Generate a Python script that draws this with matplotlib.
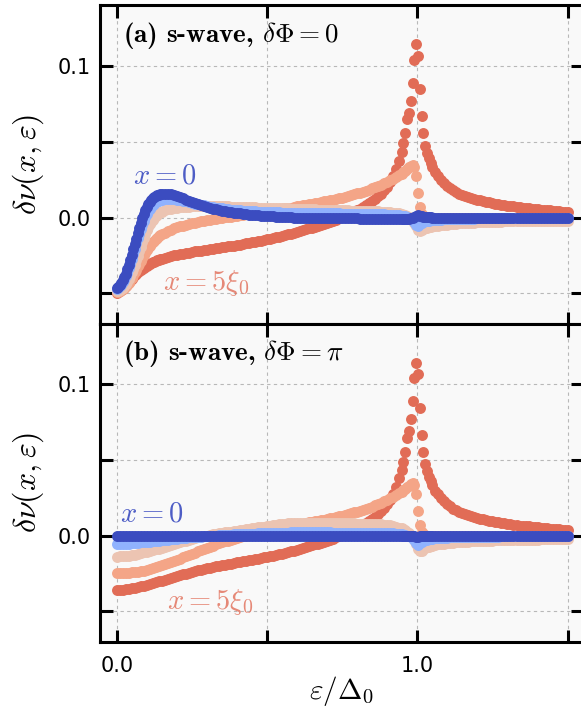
import os
import numpy as np
import matplotlib
matplotlib.use("Agg")
import matplotlib.pyplot as plt
from matplotlib.font_manager import FontProperties

plt.rcParams['mathtext.fontset'] = 'cm'

# energy grids eps/Delta_0: finer where the curves are steep (low energy in
# panel (a), and around the gap edge eps = Delta_0)
EPS_A = np.concatenate([np.arange(0, 30) / 200,
                        np.arange(15, 95) / 100,
                        np.arange(948, 1051, 6) / 1000,
                        np.arange(106, 151) / 100])
EPS_B = np.concatenate([np.arange(0, 95) / 100,
                        np.arange(948, 1051, 6) / 1000,
                        np.arange(106, 151) / 100])

# ---------------- panel (a): delta Phi = 0 ----------------
A_X0 = [
    -0.0463, -0.0456, -0.0445, -0.0431, -0.0415, -0.0394, -0.0370, -0.0341, -0.0310, -0.0278,
    -0.0245, -0.0210, -0.0175, -0.0140, -0.0105, -0.0070, -0.0035, -0.0004, 0.0025, 0.0050,
    0.0072, 0.0090, 0.0105, 0.0118, 0.0128, 0.0136, 0.0143, 0.0148, 0.0152, 0.0155,
    0.0157, 0.0158, 0.0157, 0.0153, 0.0148,
    0.0142, 0.0135, 0.0127, 0.0119, 0.0111, 0.0103, 0.0095, 0.0088, 0.0081, 0.0075,
    0.0069, 0.0064, 0.0059, 0.0054, 0.0050, 0.0046, 0.0042, 0.0039, 0.0035, 0.0032,
    0.0029, 0.0027, 0.0024, 0.0022, 0.0020, 0.0018, 0.0016, 0.0014, 0.0013, 0.0011,
    0.0010, 0.0008, 0.0007, 0.0006, 0.0005, 0.0004, 0.0003, 0.0002, 0.0001, 0.0000,
    -0.0001, -0.0001, -0.0002, -0.0002, -0.0002, -0.0003, -0.0003, -0.0003, -0.0004, -0.0004,
    -0.0004, -0.0004, -0.0005, -0.0005, -0.0005, -0.0005, -0.0006, -0.0006, -0.0006, -0.0006,
    -0.0006, -0.0007, -0.0007, -0.0007, -0.0007, -0.0007, -0.0007, -0.0007, -0.0007, -0.0007,
    -0.0007, -0.0008, -0.0008, -0.0009, -0.0009,
    -0.0009, -0.0010, -0.0010, -0.0010, -0.0009, -0.0006, -0.0002, 0.0004, 0.0012, 0.0016,
    0.0012, 0.0008, 0.0005, 0.0003, 0.0002, 0.0001, 0.0001, 0.0000,
    0.0, 0.0, 0.0, 0.0, 0.0, 0.0, 0.0, 0.0, 0.0, 0.0,
    0.0, 0.0, 0.0, 0.0, 0.0, 0.0, 0.0, 0.0, 0.0, 0.0,
    0.0, 0.0, 0.0, 0.0, 0.0, 0.0, 0.0, 0.0, 0.0, 0.0,
    0.0, 0.0, 0.0, 0.0, 0.0, 0.0, 0.0, 0.0, 0.0, 0.0,
    0.0, 0.0, 0.0, 0.0, 0.0,
]
A_X1 = [
    -0.0470, -0.0464, -0.0455, -0.0443, -0.0428, -0.0409, -0.0388, -0.0363, -0.0335, -0.0304,
    -0.0272, -0.0239, -0.0205, -0.0171, -0.0138, -0.0106, -0.0075, -0.0047, -0.0022, 0.0001,
    0.0022, 0.0040, 0.0056, 0.0070, 0.0082, 0.0092, 0.0100, 0.0107, 0.0112, 0.0116,
    0.0119, 0.0123, 0.0124, 0.0123, 0.0121,
    0.0118, 0.0114, 0.0110, 0.0106, 0.0101, 0.0097, 0.0092, 0.0088, 0.0084, 0.0080,
    0.0076, 0.0072, 0.0069, 0.0066, 0.0063, 0.0060, 0.0057, 0.0055, 0.0053, 0.0051,
    0.0049, 0.0047, 0.0045, 0.0044, 0.0042, 0.0041, 0.0040, 0.0039, 0.0038, 0.0037,
    0.0036, 0.0035, 0.0035, 0.0034, 0.0034, 0.0033, 0.0033, 0.0032, 0.0032, 0.0032,
    0.0031, 0.0031, 0.0031, 0.0030, 0.0030, 0.0030, 0.0029, 0.0029, 0.0029, 0.0028,
    0.0028, 0.0028, 0.0027, 0.0027, 0.0027, 0.0026, 0.0026, 0.0026, 0.0025, 0.0025,
    0.0025, 0.0024, 0.0024, 0.0024, 0.0023, 0.0023, 0.0022, 0.0022, 0.0021, 0.0021,
    0.0020, 0.0019, 0.0018, 0.0016, 0.0014,
    0.0012, 0.0010, 0.0007, 0.0004, 0.0000, -0.0006, -0.0015, -0.0030, -0.0048, -0.0055,
    -0.0045, -0.0036, -0.0030, -0.0026, -0.0023, -0.0020, -0.0018, -0.0017,
    -0.0015, -0.0014, -0.0013, -0.0012, -0.0011, -0.0010, -0.0010, -0.0009, -0.0009, -0.0008,
    -0.0008, -0.0007, -0.0007, -0.0007, -0.0006, -0.0006, -0.0006, -0.0005, -0.0005, -0.0005,
    -0.0005, -0.0004, -0.0004, -0.0004, -0.0004, -0.0004, -0.0004, -0.0004, -0.0004, -0.0004,
    -0.0004, -0.0004, -0.0004, -0.0003, -0.0003, -0.0003, -0.0003, -0.0003, -0.0003, -0.0003,
    -0.0003, -0.0003, -0.0003, -0.0003, -0.0003,
]
A_X2 = [
    -0.0485, -0.0482, -0.0478, -0.0471, -0.0462, -0.0451, -0.0438, -0.0423, -0.0405, -0.0385,
    -0.0362, -0.0337, -0.0310, -0.0281, -0.0252, -0.0222, -0.0192, -0.0163, -0.0135, -0.0109,
    -0.0085, -0.0064, -0.0045, -0.0028, -0.0013, 0.0000, 0.0010, 0.0019, 0.0027, 0.0034,
    0.0039, 0.0048, 0.0054, 0.0059, 0.0063,
    0.0066, 0.0068, 0.0070, 0.0071, 0.0072, 0.0073, 0.0074, 0.0074, 0.0075, 0.0075,
    0.0075, 0.0075, 0.0075, 0.0074, 0.0074, 0.0074, 0.0073, 0.0073, 0.0072, 0.0072,
    0.0071, 0.0070, 0.0070, 0.0069, 0.0068, 0.0068, 0.0067, 0.0066, 0.0066, 0.0065,
    0.0064, 0.0064, 0.0063, 0.0062, 0.0062, 0.0061, 0.0060, 0.0060, 0.0059, 0.0058,
    0.0058, 0.0057, 0.0056, 0.0056, 0.0055, 0.0054, 0.0054, 0.0053, 0.0052, 0.0052,
    0.0051, 0.0050, 0.0050, 0.0049, 0.0048, 0.0048, 0.0047, 0.0047, 0.0046, 0.0045,
    0.0045, 0.0044, 0.0044, 0.0043, 0.0042, 0.0042, 0.0041, 0.0040, 0.0039, 0.0038,
    0.0037, 0.0035, 0.0033, 0.0030, 0.0027,
    0.0024, 0.0020, 0.0015, 0.0010, 0.0003, -0.0006, -0.0018, -0.0035, -0.0058, -0.0082,
    -0.0088, -0.0082, -0.0076, -0.0071, -0.0067, -0.0064, -0.0061, -0.0059,
    -0.0056, -0.0053, -0.0050, -0.0048, -0.0046, -0.0044, -0.0042, -0.0040, -0.0039, -0.0037,
    -0.0036, -0.0035, -0.0034, -0.0033, -0.0032, -0.0031, -0.0030, -0.0030, -0.0029, -0.0028,
    -0.0028, -0.0027, -0.0027, -0.0026, -0.0026, -0.0025, -0.0025, -0.0024, -0.0024, -0.0024,
    -0.0023, -0.0023, -0.0023, -0.0022, -0.0022, -0.0022, -0.0021, -0.0021, -0.0021, -0.0021,
    -0.0020, -0.0020, -0.0020, -0.0020, -0.0020,
]
A_X3 = [
    -0.0490, -0.0489, -0.0486, -0.0481, -0.0474, -0.0465, -0.0455, -0.0443, -0.0430, -0.0415,
    -0.0398, -0.0381, -0.0362, -0.0343, -0.0323, -0.0304, -0.0285, -0.0266, -0.0248, -0.0231,
    -0.0215, -0.0200, -0.0186, -0.0174, -0.0162, -0.0152, -0.0142, -0.0133, -0.0125, -0.0118,
    -0.0111, -0.0099, -0.0089, -0.0080, -0.0072,
    -0.0065, -0.0059, -0.0053, -0.0047, -0.0042, -0.0037, -0.0033, -0.0029, -0.0025, -0.0021,
    -0.0018, -0.0014, -0.0011, -0.0008, -0.0005, -0.0002, 0.0001, 0.0003, 0.0006, 0.0009,
    0.0012, 0.0015, 0.0018, 0.0021, 0.0024, 0.0027, 0.0030, 0.0033, 0.0036, 0.0039,
    0.0042, 0.0045, 0.0048, 0.0051, 0.0054, 0.0057, 0.0060, 0.0063, 0.0066, 0.0070,
    0.0073, 0.0076, 0.0080, 0.0083, 0.0087, 0.0090, 0.0094, 0.0098, 0.0102, 0.0106,
    0.0110, 0.0114, 0.0118, 0.0123, 0.0127, 0.0132, 0.0137, 0.0142, 0.0147, 0.0153,
    0.0159, 0.0165, 0.0171, 0.0178, 0.0185, 0.0192, 0.0200, 0.0208, 0.0217, 0.0226,
    0.0236, 0.0246, 0.0257, 0.0269, 0.0281,
    0.0290, 0.0299, 0.0309, 0.0320, 0.0331, 0.0340, 0.0345, 0.0335, 0.0275, 0.0163,
    0.0070, 0.0025, 0.0010, 0.0004, 0.0001, 0.0000, -0.0001, -0.0001,
    -0.0002, -0.0002, -0.0002, -0.0002, -0.0002, -0.0002, -0.0002, -0.0002, -0.0002, -0.0002,
    -0.0002, -0.0002, -0.0002, -0.0002, -0.0002, -0.0002, -0.0002, -0.0002, -0.0002, -0.0002,
    -0.0002, -0.0002, -0.0002, -0.0002, -0.0002, -0.0002, -0.0002, -0.0002, -0.0002, -0.0002,
    -0.0002, -0.0002, -0.0002, -0.0002, -0.0002, -0.0002, -0.0002, -0.0002, -0.0002, -0.0002,
    -0.0002, -0.0002, -0.0002, -0.0002, -0.0002,
]
A_X4 = [
    -0.0495, -0.0493, -0.0488, -0.0481, -0.0472, -0.0462, -0.0451, -0.0440, -0.0428, -0.0416,
    -0.0404, -0.0393, -0.0382, -0.0372, -0.0362, -0.0353, -0.0345, -0.0337, -0.0330, -0.0323,
    -0.0317, -0.0311, -0.0306, -0.0301, -0.0296, -0.0291, -0.0287, -0.0283, -0.0279, -0.0275,
    -0.0272, -0.0266, -0.0260, -0.0255, -0.0250,
    -0.0246, -0.0242, -0.0238, -0.0234, -0.0231, -0.0227, -0.0224, -0.0221, -0.0218, -0.0215,
    -0.0212, -0.0209, -0.0206, -0.0203, -0.0200, -0.0197, -0.0194, -0.0191, -0.0188, -0.0185,
    -0.0181, -0.0178, -0.0175, -0.0171, -0.0168, -0.0164, -0.0160, -0.0156, -0.0152, -0.0148,
    -0.0144, -0.0140, -0.0135, -0.0131, -0.0126, -0.0121, -0.0116, -0.0111, -0.0106, -0.0101,
    -0.0095, -0.0090, -0.0084, -0.0078, -0.0072, -0.0066, -0.0060, -0.0054, -0.0047, -0.0041,
    -0.0034, -0.0027, -0.0020, -0.0013, -0.0005, 0.0003, 0.0011, 0.0019, 0.0028, 0.0037,
    0.0047, 0.0057, 0.0068, 0.0080, 0.0093, 0.0107, 0.0122, 0.0139, 0.0158, 0.0179,
    0.0203, 0.0235, 0.0272, 0.0318, 0.0375,
    0.0434, 0.0489, 0.0555, 0.0648, 0.0690, 0.0770, 0.0887, 0.1040, 0.1146, 0.1068,
    0.0847, 0.0668, 0.0555, 0.0475, 0.0425, 0.0390, 0.0360, 0.0332,
    0.0298, 0.0272, 0.0250, 0.0229, 0.0210, 0.0193, 0.0179, 0.0167, 0.0157, 0.0149,
    0.0142, 0.0135, 0.0129, 0.0123, 0.0118, 0.0113, 0.0108, 0.0104, 0.0100, 0.0096,
    0.0092, 0.0088, 0.0085, 0.0082, 0.0079, 0.0076, 0.0073, 0.0070, 0.0067, 0.0065,
    0.0063, 0.0061, 0.0059, 0.0057, 0.0055, 0.0053, 0.0051, 0.0049, 0.0047, 0.0045,
    0.0043, 0.0041, 0.0039, 0.0037, 0.0035,
]

# ---------------- panel (b): delta Phi = pi ----------------
B_X0 = [
    0.0, 0.0, 0.0, 0.0, 0.0, 0.0, 0.0, 0.0, 0.0, 0.0,
    0.0, 0.0, 0.0, 0.0, 0.0, 0.0, 0.0, 0.0, 0.0, 0.0,
    0.0, 0.0, 0.0, 0.0, 0.0, 0.0, 0.0, 0.0, 0.0, 0.0,
    0.0, 0.0, 0.0, 0.0, 0.0, 0.0, 0.0, 0.0, 0.0, 0.0,
    0.0, 0.0, 0.0, 0.0, 0.0, 0.0, 0.0, 0.0, 0.0, 0.0,
    0.0, 0.0, 0.0, 0.0, 0.0, 0.0, 0.0, 0.0, 0.0, 0.0,
    0.0, 0.0, 0.0, 0.0, 0.0, 0.0, 0.0, 0.0, 0.0, 0.0,
    0.0, 0.0, 0.0, 0.0, 0.0, 0.0, 0.0, 0.0, 0.0, 0.0,
    0.0, 0.0, 0.0, 0.0, 0.0, 0.0, 0.0, 0.0, 0.0, 0.0,
    0.0, 0.0, 0.0, 0.0, 0.0,
    0.0, 0.0, 0.0, 0.0, 0.0, 0.0, -0.0002, -0.0004, -0.0006, -0.0006,
    -0.0004, -0.0002, -0.0001, 0.0, 0.0, 0.0, 0.0, 0.0,
    0.0, 0.0, 0.0, 0.0, 0.0, 0.0, 0.0, 0.0, 0.0, 0.0,
    0.0, 0.0, 0.0, 0.0, 0.0, 0.0, 0.0, 0.0, 0.0, 0.0,
    0.0, 0.0, 0.0, 0.0, 0.0, 0.0, 0.0, 0.0, 0.0, 0.0,
    0.0, 0.0, 0.0, 0.0, 0.0, 0.0, 0.0, 0.0, 0.0, 0.0,
    0.0, 0.0, 0.0, 0.0, 0.0,
]
B_X1 = [
    -0.0055, -0.0055, -0.0054, -0.0053, -0.0052, -0.0050, -0.0049, -0.0047, -0.0045, -0.0043,
    -0.0041, -0.0039, -0.0037, -0.0035, -0.0032, -0.0030, -0.0028, -0.0026, -0.0024, -0.0022,
    -0.0020, -0.0018, -0.0016, -0.0014, -0.0012, -0.0011, -0.0009, -0.0007, -0.0006, -0.0004,
    -0.0003, -0.0001, 0.0000, 0.0001, 0.0003, 0.0004, 0.0005, 0.0006, 0.0007, 0.0008,
    0.0009, 0.0010, 0.0011, 0.0012, 0.0013, 0.0014, 0.0014, 0.0015, 0.0016, 0.0016,
    0.0017, 0.0018, 0.0018, 0.0019, 0.0019, 0.0020, 0.0020, 0.0020, 0.0021, 0.0021,
    0.0021, 0.0021, 0.0021, 0.0021, 0.0021, 0.0021, 0.0021, 0.0021, 0.0021, 0.0021,
    0.0021, 0.0021, 0.0020, 0.0020, 0.0020, 0.0020, 0.0020, 0.0020, 0.0020, 0.0020,
    0.0020, 0.0020, 0.0019, 0.0019, 0.0019, 0.0019, 0.0019, 0.0018, 0.0018, 0.0018,
    0.0017, 0.0016, 0.0015, 0.0013, 0.0011,
    0.0009, 0.0007, 0.0004, 0.0001, -0.0003, -0.0008, -0.0016, -0.0030, -0.0050, -0.0060,
    -0.0050, -0.0040, -0.0034, -0.0030, -0.0027, -0.0024, -0.0022, -0.0020,
    -0.0018, -0.0016, -0.0015, -0.0014, -0.0013, -0.0012, -0.0011, -0.0011, -0.0010, -0.0010,
    -0.0009, -0.0009, -0.0008, -0.0008, -0.0008, -0.0007, -0.0007, -0.0007, -0.0006, -0.0006,
    -0.0006, -0.0006, -0.0005, -0.0005, -0.0005, -0.0005, -0.0005, -0.0005, -0.0005, -0.0005,
    -0.0005, -0.0005, -0.0004, -0.0004, -0.0004, -0.0004, -0.0004, -0.0004, -0.0004, -0.0004,
    -0.0004, -0.0004, -0.0004, -0.0003, -0.0003,
]
B_X2 = [
    -0.0138, -0.0137, -0.0136, -0.0134, -0.0131, -0.0128, -0.0125, -0.0121, -0.0116, -0.0111,
    -0.0106, -0.0101, -0.0096, -0.0090, -0.0085, -0.0079, -0.0073, -0.0067, -0.0061, -0.0055,
    -0.0049, -0.0043, -0.0038, -0.0032, -0.0027, -0.0022, -0.0017, -0.0012, -0.0008, -0.0004,
    0.0000, 0.0004, 0.0008, 0.0011, 0.0015, 0.0018, 0.0021, 0.0024, 0.0027, 0.0030,
    0.0033, 0.0036, 0.0039, 0.0042, 0.0045, 0.0048, 0.0051, 0.0054, 0.0057, 0.0060,
    0.0063, 0.0066, 0.0069, 0.0072, 0.0075, 0.0078, 0.0080, 0.0082, 0.0084, 0.0085,
    0.0086, 0.0086, 0.0086, 0.0086, 0.0086, 0.0085, 0.0085, 0.0085, 0.0085, 0.0084,
    0.0084, 0.0084, 0.0083, 0.0083, 0.0083, 0.0082, 0.0082, 0.0082, 0.0081, 0.0081,
    0.0080, 0.0080, 0.0079, 0.0079, 0.0078, 0.0078, 0.0077, 0.0076, 0.0075, 0.0073,
    0.0071, 0.0068, 0.0064, 0.0059, 0.0053,
    0.0048, 0.0042, 0.0035, 0.0027, 0.0017, 0.0005, -0.0010, -0.0030, -0.0058, -0.0090,
    -0.0103, -0.0098, -0.0090, -0.0083, -0.0078, -0.0073, -0.0069, -0.0066,
    -0.0062, -0.0058, -0.0055, -0.0052, -0.0050, -0.0048, -0.0046, -0.0044, -0.0043, -0.0041,
    -0.0040, -0.0039, -0.0038, -0.0037, -0.0036, -0.0035, -0.0034, -0.0033, -0.0033, -0.0032,
    -0.0031, -0.0031, -0.0030, -0.0030, -0.0029, -0.0029, -0.0028, -0.0028, -0.0028, -0.0027,
    -0.0027, -0.0027, -0.0026, -0.0026, -0.0026, -0.0025, -0.0025, -0.0025, -0.0025, -0.0024,
    -0.0024, -0.0024, -0.0024, -0.0023, -0.0023,
]
B_X3 = [
    -0.0248, -0.0248, -0.0247, -0.0246, -0.0244, -0.0242, -0.0240, -0.0237, -0.0234, -0.0230,
    -0.0226, -0.0221, -0.0216, -0.0210, -0.0203, -0.0196, -0.0189, -0.0182, -0.0175, -0.0168,
    -0.0160, -0.0152, -0.0144, -0.0136, -0.0128, -0.0120, -0.0112, -0.0104, -0.0096, -0.0088,
    -0.0080, -0.0072, -0.0065, -0.0058, -0.0051, -0.0044, -0.0038, -0.0032, -0.0026, -0.0020,
    -0.0014, -0.0009, -0.0004, 0.0001, 0.0005, 0.0010, 0.0014, 0.0018, 0.0023, 0.0027,
    0.0031, 0.0036, 0.0040, 0.0045, 0.0049, 0.0053, 0.0058, 0.0062, 0.0066, 0.0070,
    0.0073, 0.0076, 0.0080, 0.0083, 0.0087, 0.0090, 0.0094, 0.0098, 0.0102, 0.0106,
    0.0110, 0.0114, 0.0118, 0.0123, 0.0127, 0.0132, 0.0137, 0.0142, 0.0147, 0.0153,
    0.0159, 0.0165, 0.0171, 0.0178, 0.0185, 0.0192, 0.0200, 0.0208, 0.0217, 0.0226,
    0.0236, 0.0246, 0.0257, 0.0269, 0.0281,
    0.0290, 0.0299, 0.0309, 0.0320, 0.0331, 0.0340, 0.0345, 0.0335, 0.0275, 0.0163,
    0.0070, 0.0025, 0.0010, 0.0004, 0.0001, 0.0000, -0.0001, -0.0001,
    -0.0002, -0.0002, -0.0002, -0.0002, -0.0002, -0.0002, -0.0002, -0.0002, -0.0002, -0.0002,
    -0.0002, -0.0002, -0.0002, -0.0002, -0.0002, -0.0002, -0.0002, -0.0002, -0.0002, -0.0002,
    -0.0002, -0.0002, -0.0002, -0.0002, -0.0002, -0.0002, -0.0002, -0.0002, -0.0002, -0.0002,
    -0.0002, -0.0002, -0.0002, -0.0002, -0.0002, -0.0002, -0.0002, -0.0002, -0.0002, -0.0002,
    -0.0002, -0.0002, -0.0002, -0.0002, -0.0002,
]
B_X4 = [
    -0.0358, -0.0357, -0.0356, -0.0354, -0.0351, -0.0348, -0.0344, -0.0340, -0.0335, -0.0330,
    -0.0325, -0.0319, -0.0314, -0.0308, -0.0302, -0.0296, -0.0290, -0.0284, -0.0278, -0.0272,
    -0.0266, -0.0261, -0.0255, -0.0250, -0.0244, -0.0239, -0.0234, -0.0229, -0.0224, -0.0220,
    -0.0215, -0.0211, -0.0207, -0.0203, -0.0199, -0.0195, -0.0191, -0.0187, -0.0184, -0.0180,
    -0.0177, -0.0173, -0.0170, -0.0166, -0.0163, -0.0159, -0.0155, -0.0152, -0.0148, -0.0144,
    -0.0140, -0.0136, -0.0132, -0.0127, -0.0123, -0.0118, -0.0113, -0.0108, -0.0103, -0.0098,
    -0.0093, -0.0088, -0.0082, -0.0076, -0.0070, -0.0064, -0.0058, -0.0052, -0.0046, -0.0040,
    -0.0033, -0.0026, -0.0019, -0.0011, -0.0003, 0.0005, 0.0013, 0.0022, 0.0031, 0.0040,
    0.0050, 0.0060, 0.0071, 0.0083, 0.0096, 0.0110, 0.0125, 0.0142, 0.0161, 0.0182,
    0.0206, 0.0238, 0.0275, 0.0321, 0.0378,
    0.0434, 0.0489, 0.0555, 0.0648, 0.0690, 0.0770, 0.0887, 0.1040, 0.1140, 0.1066,
    0.0845, 0.0666, 0.0553, 0.0475, 0.0425, 0.0390, 0.0360, 0.0332,
    0.0298, 0.0272, 0.0250, 0.0229, 0.0210, 0.0193, 0.0179, 0.0167, 0.0157, 0.0149,
    0.0142, 0.0135, 0.0129, 0.0123, 0.0118, 0.0113, 0.0108, 0.0104, 0.0100, 0.0096,
    0.0092, 0.0088, 0.0085, 0.0082, 0.0079, 0.0076, 0.0073, 0.0070, 0.0067, 0.0065,
    0.0063, 0.0061, 0.0059, 0.0057, 0.0055, 0.0053, 0.0051, 0.0049, 0.0047, 0.0045,
    0.0043, 0.0041, 0.0039, 0.0037, 0.0035,
]

# curves from x = 5 xi_0 (drawn first, underneath) to x = 0 (on top)
COLORS = ['#e16c56', '#f4a587', '#ecc4b2', '#90b2fe', '#3b4cc0']
PANEL_A = [A_X4, A_X3, A_X2, A_X1, A_X0]
PANEL_B = [B_X4, B_X3, B_X2, B_X1, B_X0]
TITLES = [r'(a) s-wave, $\delta\Phi=0$', r'(b) s-wave, $\delta\Phi=\pi$']

bold_cm = FontProperties(fname=os.path.join(matplotlib.get_data_path(),
                                            'fonts', 'ttf', 'cmb10.ttf'), size=19.5)

fig = plt.figure(figsize=(5.81, 7.09), dpi=100)
ax_a = fig.add_axes([0.1725, 0.5436, 0.8303, 0.4487])
ax_b = fig.add_axes([0.1725, 0.0949, 0.8303, 0.4487], sharex=ax_a)

for ax, eps, series, title in [(ax_a, EPS_A, PANEL_A, TITLES[0]),
                               (ax_b, EPS_B, PANEL_B, TITLES[1])]:
    ax.set_facecolor('#f9f9f9')
    ax.set_axisbelow(True)
    ax.grid(True, ls=(0, (3, 3)), lw=0.8, color='#b8b8b8')
    for k, (vals, col) in enumerate(zip(series, COLORS)):
        ax.scatter(eps, vals, s=62, color=col, linewidths=0, zorder=2 + k)
    ax.set_xlim(-0.055, 1.55)
    ax.set_ylim(-0.07, 0.14)
    ax.set_xticks([0.0, 0.5, 1.0, 1.5])
    ax.set_xticklabels(['0.0', '', '1.0', ''])
    ax.set_yticks([-0.05, 0.0, 0.05, 0.1])
    ax.set_yticklabels(['', '0.0', '', '0.1'])
    ax.tick_params(direction='in', length=9, width=2.2, top=True, right=True,
                   labelsize=15)
    ax.tick_params(axis='y', pad=7)
    ax.tick_params(axis='x', pad=10)
    for sp in ax.spines.values():
        sp.set_linewidth(2.2)
    ax.set_ylabel(r'$\delta\nu(x,\varepsilon)$', fontsize=23, labelpad=8)
    ax.text(0.02, 0.12, title, fontproperties=bold_cm, va='center', ha='left',
            zorder=10)

ax_a.tick_params(axis='x', labelbottom=False)

ax_a.text(0.055, 0.028, r'$x=0$', color='#3b4cc0', alpha=0.9, fontsize=20.5,
          va='center', ha='left', zorder=10)
ax_a.text(0.155, -0.043, r'$x=5\xi_0$', color='#e16c56', alpha=0.8, fontsize=20.5,
          va='center', ha='left', zorder=10)
ax_b.text(0.011, 0.0146, r'$x=0$', color='#3b4cc0', alpha=0.9, fontsize=20.5,
          va='center', ha='left', zorder=10)
ax_b.text(0.167, -0.0437, r'$x=5\xi_0$', color='#e16c56', alpha=0.8, fontsize=20.5,
          va='center', ha='left', zorder=10)

ax_b.set_xlabel(r'$\varepsilon/\Delta_0$', fontsize=21)
ax_b.xaxis.set_label_coords(0.5, -0.103)

fig.savefig('out.png', dpi=100)
